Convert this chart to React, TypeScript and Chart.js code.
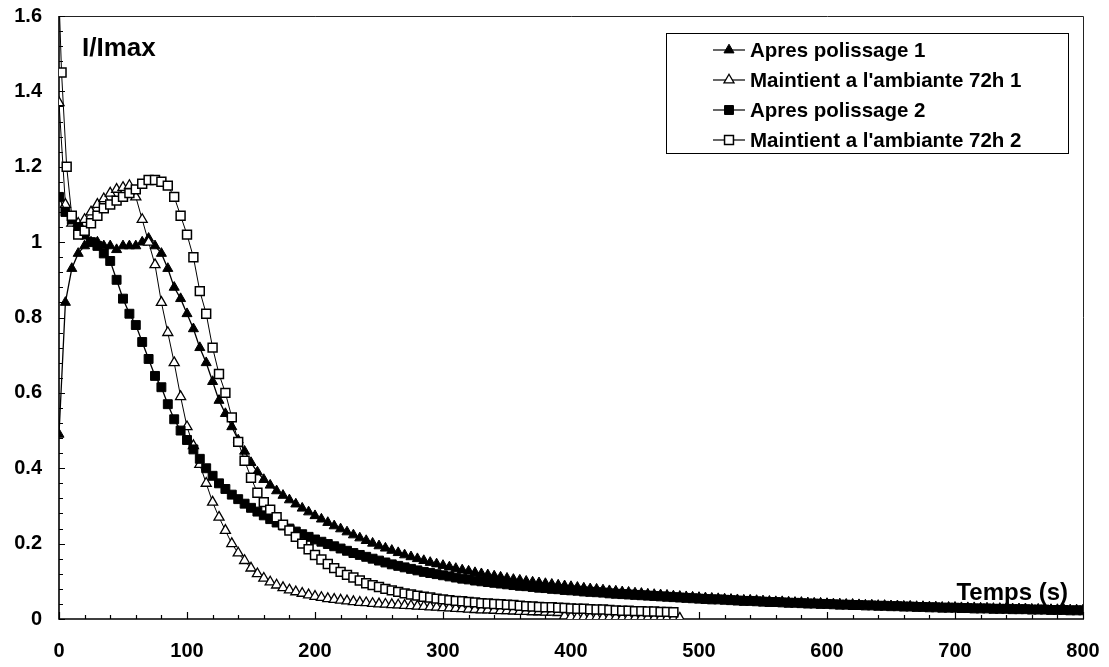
import React, { useEffect, useRef } from "react";
import { Chart, registerables } from "chart.js";

Chart.register(...registerables);

// ---------- DATA ----------
const TIME_5S = [
  0, 5, 10, 15, 20, 25, 30, 35, 40, 45,
  50, 55, 60, 65, 70, 75, 80, 85, 90, 95,
  100, 105, 110, 115, 120, 125, 130, 135, 140, 145,
  150, 155, 160, 165, 170, 175, 180, 185, 190, 195,
  200, 205, 210, 215, 220, 225, 230, 235, 240, 245,
  250, 255, 260, 265, 270, 275, 280, 285, 290, 295,
  300, 305, 310, 315, 320, 325, 330, 335, 340, 345,
  350, 355, 360, 365, 370, 375, 380, 385, 390, 395,
  400, 405, 410, 415, 420, 425, 430, 435, 440, 445,
  450, 455, 460, 465, 470, 475, 480, 485, 490, 495,
  500, 505, 510, 515, 520, 525, 530, 535, 540, 545,
  550, 555, 560, 565, 570, 575, 580, 585, 590, 595,
  600, 605, 610, 615, 620, 625, 630, 635, 640, 645,
  650, 655, 660, 665, 670, 675, 680, 685, 690, 695,
  700, 705, 710, 715, 720, 725, 730, 735, 740, 745,
  750, 755, 760, 765, 770, 775, 780, 785, 790, 795,
  800,
];

const TIME_S4 = [
  0, 2, 6, 10, 15, 20, 25, 30, 35, 40, 45,
  50, 55, 60, 65, 70, 75, 80, 85, 90, 95,
  100, 105, 110, 115, 120, 125, 130, 135, 140, 145,
  150, 155, 160, 165, 170, 175, 180, 185, 190, 195,
  200, 205, 210, 215, 220, 225, 230, 235, 240, 245,
  250, 255, 260, 265, 270, 275, 280, 285, 290, 295,
  300, 305, 310, 315, 320, 325, 330, 335, 340, 345,
  350, 355, 360, 365, 370, 375, 380, 385, 390, 395,
  400, 405, 410, 415, 420, 425, 430, 435, 440, 445,
  450, 455, 460, 465, 470, 475, 480,
];

const APRES_POLISSAGE_1 = [
  0.49, 0.84, 0.93, 0.97, 0.99, 1.0, 1.0, 0.99, 0.99, 0.98,
  0.99, 0.99, 0.99, 1.0, 1.01, 0.99, 0.97, 0.93, 0.88, 0.85,
  0.81, 0.77, 0.72, 0.68, 0.63, 0.58, 0.545, 0.51, 0.475, 0.445,
  0.415, 0.39, 0.37, 0.355, 0.34, 0.328, 0.316, 0.305, 0.294, 0.284,
  0.274, 0.265, 0.256, 0.247, 0.239, 0.231, 0.223, 0.215, 0.208, 0.201,
  0.194, 0.188, 0.182, 0.176, 0.17, 0.165, 0.16, 0.155, 0.15, 0.146,
  0.142, 0.138, 0.134, 0.13, 0.127, 0.123, 0.12, 0.117, 0.114, 0.111,
  0.108, 0.105, 0.103, 0.1, 0.098, 0.096, 0.094, 0.092, 0.09, 0.088,
  0.086, 0.084, 0.082, 0.08, 0.079, 0.077, 0.075, 0.074, 0.072, 0.071,
  0.069, 0.068, 0.066, 0.065, 0.064, 0.063, 0.061, 0.06, 0.059, 0.058,
  0.057, 0.056, 0.055, 0.054, 0.053, 0.052, 0.051, 0.05, 0.05, 0.049,
  0.048, 0.047, 0.046, 0.046, 0.045, 0.044, 0.044, 0.043, 0.042, 0.042,
  0.041, 0.04, 0.04, 0.039, 0.039, 0.038, 0.037, 0.037, 0.036, 0.036,
  0.035, 0.035, 0.034, 0.034, 0.033, 0.033, 0.032, 0.032, 0.031, 0.031,
  0.031, 0.03, 0.03, 0.03, 0.029, 0.029, 0.028, 0.028, 0.028, 0.027,
  0.027, 0.027, 0.026, 0.026, 0.026, 0.025, 0.025, 0.025, 0.024, 0.024,
  0.024,
];

const MAINTIENT_72H_1 = [
  1.37, 1.1, 1.05, 1.05, 1.06, 1.08, 1.1, 1.115, 1.13, 1.14,
  1.145, 1.15, 1.12, 1.06, 1.0, 0.94, 0.84, 0.76, 0.68, 0.59,
  0.51, 0.46, 0.41, 0.36, 0.31, 0.27, 0.235, 0.2, 0.175, 0.155,
  0.135, 0.12, 0.108, 0.098, 0.09, 0.083, 0.077, 0.072, 0.068, 0.064,
  0.06, 0.057, 0.054, 0.052, 0.05, 0.048, 0.046, 0.044, 0.043, 0.041,
  0.04, 0.039, 0.038, 0.037, 0.036, 0.035, 0.034, 0.033, 0.032, 0.031,
  0.03, 0.029, 0.028, 0.027, 0.026, 0.025, 0.024, 0.024, 0.023, 0.022,
  0.022, 0.021, 0.02, 0.02, 0.019, 0.019, 0.018, 0.018, 0.017, 0.008,
  0.006, 0.005, 0.005, 0.005, 0.004, 0.004, 0.004, 0.004, 0.003, 0.003,
  0.003, 0.003, 0.003, 0.002, 0.002, 0.002, 0.002, 0.002,
];

const APRES_POLISSAGE_2 = [
  1.12, 1.08, 1.06, 1.04, 1.02, 1.0, 0.99, 0.97, 0.95, 0.9,
  0.85, 0.81, 0.78, 0.735, 0.69, 0.645, 0.615, 0.57, 0.53, 0.5,
  0.475, 0.45, 0.425, 0.4, 0.38, 0.36, 0.345, 0.33, 0.318, 0.306,
  0.295, 0.285, 0.275, 0.265, 0.256, 0.248, 0.24, 0.232, 0.225, 0.218,
  0.211, 0.205, 0.199, 0.193, 0.187, 0.181, 0.175, 0.17, 0.165, 0.16,
  0.155, 0.15, 0.145, 0.141, 0.137, 0.133, 0.129, 0.125, 0.122, 0.119,
  0.116, 0.113, 0.11, 0.107, 0.105, 0.102, 0.1, 0.098, 0.096, 0.094,
  0.092, 0.09, 0.088, 0.087, 0.085, 0.083, 0.082, 0.08, 0.079, 0.077,
  0.076, 0.075, 0.073, 0.072, 0.071, 0.07, 0.068, 0.067, 0.066, 0.065,
  0.064, 0.063, 0.062, 0.061, 0.06, 0.059, 0.058, 0.057, 0.056, 0.055,
  0.054, 0.053, 0.052, 0.052, 0.051, 0.05, 0.049, 0.048, 0.048, 0.047,
  0.046, 0.045, 0.045, 0.044, 0.043, 0.043, 0.042, 0.041, 0.041, 0.04,
  0.04, 0.039, 0.038, 0.038, 0.037, 0.037, 0.036, 0.036, 0.035, 0.035,
  0.034, 0.034, 0.033, 0.033, 0.032, 0.032, 0.031, 0.031, 0.03, 0.03,
  0.03, 0.029, 0.029, 0.028, 0.028, 0.028, 0.027, 0.027, 0.027, 0.026,
  0.026, 0.026, 0.025, 0.025, 0.025, 0.024, 0.024, 0.024, 0.023, 0.023,
  0.023,
];

const MAINTIENT_72H_2 = [
  1.65, 1.45, 1.2, 1.07, 1.02, 1.03, 1.05, 1.07, 1.09, 1.1, 1.11,
  1.12, 1.13, 1.14, 1.155, 1.165, 1.165, 1.16, 1.15, 1.12, 1.07,
  1.02, 0.96, 0.87, 0.81, 0.72, 0.65, 0.6, 0.535, 0.47, 0.42,
  0.375, 0.335, 0.31, 0.29, 0.27, 0.25, 0.235, 0.218, 0.2, 0.185,
  0.17, 0.158, 0.146, 0.135, 0.125, 0.117, 0.11, 0.102, 0.095, 0.09,
  0.085, 0.08, 0.076, 0.072, 0.068, 0.065, 0.062, 0.059, 0.057, 0.054,
  0.052, 0.05, 0.048, 0.047, 0.045, 0.044, 0.042, 0.041, 0.04, 0.039,
  0.038, 0.037, 0.035, 0.034, 0.033, 0.032, 0.031, 0.031, 0.03, 0.029,
  0.028, 0.027, 0.027, 0.026, 0.025, 0.025, 0.024, 0.023, 0.022, 0.022,
  0.021, 0.021, 0.02, 0.02, 0.019, 0.019, 0.018,
];

const SERIES_LABELS = [
  "Apres polissage 1",
  "Maintient a l'ambiante 72h 1",
  "Apres polissage 2",
  "Maintient a l'ambiante 72h 2",
];
const Y_TITLE = "I/Imax";
const X_TITLE = "Temps (s)";

// ---------- STYLE ----------
const FONT = "'Liberation Sans', Arial, Helvetica, sans-serif";
const W = 1109;
const H = 667;

type MarkerStyle = { shape: "triangle" | "rect"; radius: number; fill: string; lineW: number };
const STYLES: MarkerStyle[] = [
  { shape: "triangle", radius: 5.8, fill: "#000", lineW: 1 },
  { shape: "triangle", radius: 5.8, fill: "#fff", lineW: 1.3 },
  { shape: "rect", radius: 6.3, fill: "#000", lineW: 1 },
  { shape: "rect", radius: 6.3, fill: "#fff", lineW: 1.5 },
];

function drawMarker(ctx: CanvasRenderingContext2D, st: MarkerStyle, x: number, y: number) {
  ctx.beginPath();
  const r = st.radius;
  if (st.shape === "triangle") {
    let rad = 0;
    ctx.moveTo(x + Math.sin(rad) * r, y - Math.cos(rad) * r);
    rad += (2 * Math.PI) / 3;
    ctx.lineTo(x + Math.sin(rad) * r, y - Math.cos(rad) * r);
    rad += (2 * Math.PI) / 3;
    ctx.lineTo(x + Math.sin(rad) * r, y - Math.cos(rad) * r);
    ctx.closePath();
  } else {
    const s = r * Math.SQRT1_2;
    ctx.rect(x - s, y - s, 2 * s, 2 * s);
  }
  ctx.fillStyle = st.fill;
  ctx.fill();
  ctx.lineWidth = st.lineW;
  ctx.strokeStyle = "#000";
  ctx.stroke();
}

const framePlugin = {
  id: "frameTicks",
  beforeDatasetsDraw(chart: any) {
    const { ctx, chartArea: a, scales } = chart;
    const xs = scales.x;
    const ys = scales.y;
    ctx.save();
    // top & right thin border
    ctx.lineWidth = 1;
    ctx.strokeStyle = "#222";
    ctx.beginPath();
    ctx.moveTo(a.left, a.top + 0.5);
    ctx.lineTo(a.right + 0.5, a.top + 0.5);
    ctx.lineTo(a.right + 0.5, a.bottom);
    ctx.stroke();
    // axes
    ctx.strokeStyle = "#000";
    ctx.lineWidth = 1.6;
    ctx.beginPath();
    ctx.moveTo(a.left, a.top);
    ctx.lineTo(a.left, a.bottom);
    ctx.lineTo(a.right + 1, a.bottom);
    ctx.stroke();
    // inner ticks
    ctx.lineWidth = 1.2;
    ctx.beginPath();
    for (let t = 0; t <= 800; t += 20) {
      const px = Math.round(xs.getPixelForValue(t)) + 0.5;
      const len = t % 100 === 0 ? 7 : 4;
      ctx.moveTo(px, a.bottom);
      ctx.lineTo(px, a.bottom - len);
    }
    for (let i = 0; i <= 40; i++) {
      const v = i * 0.04;
      const py = Math.round(ys.getPixelForValue(v)) + 0.5;
      const len = i % 5 === 0 ? 6 : 4;
      ctx.moveTo(a.left, py);
      ctx.lineTo(a.left + len, py);
    }
    ctx.stroke();
    ctx.restore();
  },
  afterDatasetsDraw(chart: any) {
    const { ctx } = chart;
    ctx.save();
    ctx.fillStyle = "#000";
    ctx.textBaseline = "alphabetic";
    ctx.font = `bold 26px ${FONT}`;
    ctx.textAlign = "left";
    ctx.fillText(Y_TITLE, 82, 56);
    ctx.font = `bold 24px ${FONT}`;
    ctx.textAlign = "right";
    ctx.fillText(X_TITLE, 1068, 600);

    // legend
    const L = 666, T = 33, R = 1068, B = 153;
    ctx.fillStyle = "#fff";
    ctx.fillRect(L, T, R - L, B - T);
    ctx.strokeStyle = "#000";
    ctx.lineWidth = 1;
    ctx.strokeRect(L + 0.5, T + 0.5, R - L, B - T);
    const rows = [50, 80, 110, 140];
    ctx.font = `bold 20.5px ${FONT}`;
    ctx.textAlign = "left";
    ctx.textBaseline = "middle";
    SERIES_LABELS.forEach((lab, i) => {
      const y = rows[i];
      ctx.strokeStyle = "#000";
      ctx.lineWidth = 1.2;
      ctx.beginPath();
      ctx.moveTo(713, y);
      ctx.lineTo(745, y);
      ctx.stroke();
      drawMarker(ctx, STYLES[i], 729, y);
      ctx.fillStyle = "#000";
      ctx.fillText(lab, 750, y + 1);
    });
    ctx.restore();
  },
};

function toPoints(times: number[], vals: number[]) {
  return vals.map((v, i) => ({ x: times[i], y: v }));
}

export default function App() {
  const ref = useRef<HTMLCanvasElement>(null);
  useEffect(() => {
    if (!ref.current) return;
    Chart.defaults.font.family = FONT;
    const seriesData = [
      toPoints(TIME_5S, APRES_POLISSAGE_1),
      toPoints(TIME_5S, MAINTIENT_72H_1),
      toPoints(TIME_5S, APRES_POLISSAGE_2),
      toPoints(TIME_S4, MAINTIENT_72H_2),
    ];
    const orders = [4, 3, 2, 1];
    const chart = new Chart(ref.current, {
      type: "line",
      data: {
        datasets: seriesData.map((d, i) => ({
          label: SERIES_LABELS[i],
          data: d,
          borderColor: "#000",
          borderWidth: i % 2 === 0 ? 1.3 : 1,
          pointStyle: STYLES[i].shape,
          pointRadius: STYLES[i].radius,
          pointBackgroundColor: STYLES[i].fill,
          pointBorderColor: "#000",
          pointBorderWidth: STYLES[i].lineW,
          tension: 0,
          fill: false,
          order: orders[i],
        })),
      },
      options: {
        animation: false,
        responsive: false,
        devicePixelRatio: 1,
        layout: { padding: { top: 16, right: 26, left: 0, bottom: 0 } },
        plugins: { legend: { display: false }, tooltip: { enabled: false } },
        scales: {
          x: {
            type: "linear",
            min: 0,
            max: 800,
            afterFit: (s: any) => {
              s.height = 48;
              s.paddingLeft = 0;
              s.paddingRight = 0;
            },
            grid: { display: false, drawTicks: false },
            border: { display: false },
            ticks: {
              stepSize: 100,
              padding: 20,
              color: "#000",
              maxRotation: 0,
              autoSkip: false,
              font: { family: FONT, size: 20, weight: "bold" },
            },
          },
          y: {
            type: "linear",
            min: 0,
            max: 1.6,
            afterFit: (s: any) => {
              s.width = 59;
              s.paddingTop = 0;
              s.paddingBottom = 0;
            },
            grid: { display: false, drawTicks: false },
            border: { display: false },
            ticks: {
              stepSize: 0.2,
              padding: 17,
              color: "#000",
              font: { family: FONT, size: 20, weight: "bold" },
              callback: (v: any) => String(Math.round(Number(v) * 10) / 10),
            },
          },
        },
      },
      plugins: [framePlugin],
    } as any);
    return () => chart.destroy();
  }, []);
  return (
    <div style={{ position: "fixed", left: 0, top: 0, width: W, height: H, background: "#fff" }}>
      <canvas ref={ref} width={W} height={H} style={{ display: "block", width: W, height: H }} />
    </div>
  );
}
